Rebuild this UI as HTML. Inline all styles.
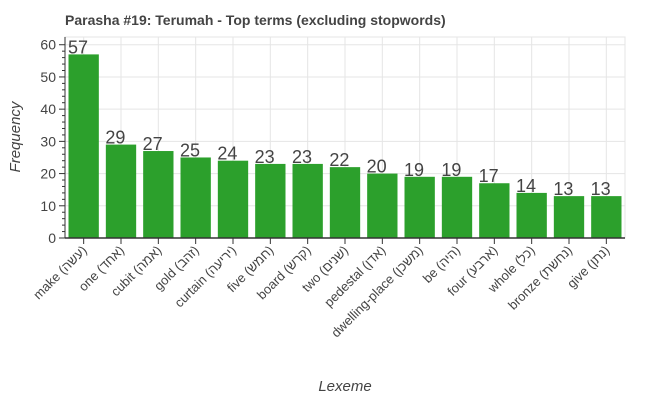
<!DOCTYPE html>
<html><head><meta charset="utf-8"><style>
body{margin:0;background:#fff;font-family:"Liberation Sans","Noto Sans CJK SC",sans-serif}
</style></head><body>
<svg width="665" height="400" xmlns="http://www.w3.org/2000/svg" id="svg"></svg>
<script>
const categories=["make (עשה)","one (אחד)","cubit (אמה)","gold (זהב)","curtain (יריעה)","five (חמש)","board (קרש)","two (שנים)","pedestal (אדן)","dwelling-place (משכן)","be (היה)","four (ארבע)","whole (כל)","bronze (נחשת)","give (נתן)"];
const values=[57,29,27,25,24,23,23,22,20,19,19,17,14,13,13];
const yTicks=[0,10,20,30,40,50,60];
const NS="http://www.w3.org/2000/svg";
const svg=document.getElementById('svg');
const L=65,R=625,T=37,B=238,YMAX=62.4;
const y=v=>B-v/YMAX*(B-T);
const bw=(R-L)/categories.length;
const x=i=>L+bw*i;
function el(t,a,txt){const e=document.createElementNS(NS,t);for(const k in a)e.setAttribute(k,a[k]);if(txt!==undefined)e.textContent=txt;svg.appendChild(e);return e;}
let e;
e=el('rect',{x:L,y:T,width:R-L,height:B-T,fill:'#fff',stroke:'#e5e5e5'});


yTicks.forEach(t=>{
 e=el('line',{x1:L,x2:R,y1:y(t),y2:y(t),stroke:'#e5e5e5'});
 
 
 e=el('line',{x1:L-6,x2:L,y1:y(t),y2:y(t),stroke:'#333'});
 
 
 e=el('text',{x:L-9,y:y(t)+5,'text-anchor':'end','font-size':14,fill:'#444'},t);
 
 
});
for(let t=0;t<62;t+=2){if(t%10){e=el('line',{x1:L-3,x2:L,y1:y(t),y2:y(t),stroke:'#333'});
 
 }}
categories.forEach((c,i)=>{
 const cx=x(i)+bw/2;
 e=el('line',{x1:cx,x2:cx,y1:T,y2:B,stroke:'#e5e5e5'});
 
 
 e=el('rect',{x:x(i)+3.5,y:y(values[i]),width:bw-7,height:B-y(values[i]),fill:'#2ca02c'});
 
 
 e=el('text',{x:x(i)+3,y:y(values[i])-1,'font-size':18,fill:'#444'},values[i]);
 
 
 e=el('line',{x1:cx,x2:cx,y1:B,y2:B+6,stroke:'#333'});
 
 
 e=el('text',{x:cx+4,y:B+13,'text-anchor':'end','font-size':13,fill:'#444',transform:`rotate(-45 ${cx+4} ${B+13})`},c+'\u200E');
 
 
});
e=el('line',{x1:L,x2:L,y1:T,y2:B,stroke:'#333'});


e=el('line',{x1:L,x2:R,y1:B,y2:B,stroke:'#333',"stroke-width":1.5});


e=el('text',{x:65,y:25,'font-size':14,'font-weight':'bold',fill:'#444'},'Parasha #19: Terumah - Top terms (excluding stopwords)');


e=el('text',{x:20,y:137,'font-size':15,'font-style':'italic',fill:'#444','text-anchor':'middle',transform:'rotate(-90 20 137)'},'Frequency');


e=el('text',{x:345,y:391,'font-size':15,'font-style':'italic',fill:'#444','text-anchor':'middle'},'Lexeme');


</script>
</body></html>
